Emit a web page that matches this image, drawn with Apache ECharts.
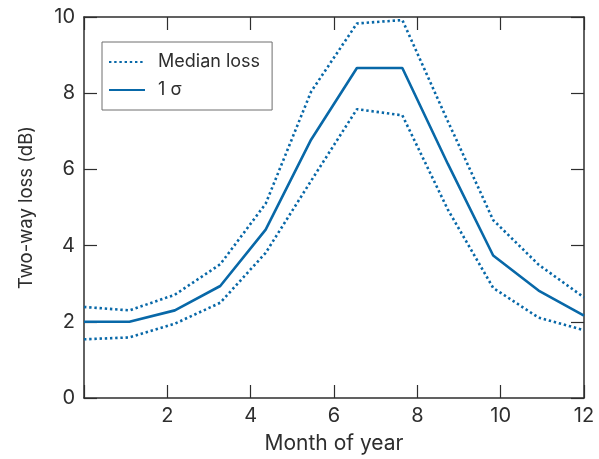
<!DOCTYPE html>
<html>
<head>
<meta charset="utf-8">
<script src="https://cdn.jsdelivr.net/npm/echarts@6/dist/echarts.min.js"></script>
<style>
  html, body { margin: 0; padding: 0; background: #fff; }
  #chart { width: 599px; height: 459px; }
</style>
</head>
<body>
<div id="chart"></div>
<script>
// Month positions of the sampled points (12 samples across the year)
const months = [0, 1.09, 2.18, 3.27, 4.36, 5.45, 6.55, 7.64, 8.73, 9.82, 10.91, 12];
// Upper bound of the loss band (dB)
const upperLoss = [2.39, 2.30, 2.71, 3.51, 5.10, 8.04, 9.83, 9.92, 7.27, 4.67, 3.50, 2.64];
// Central 1-sigma curve (dB)
const sigmaLoss = [2.00, 2.00, 2.30, 2.94, 4.42, 6.78, 8.66, 8.66, 6.15, 3.74, 2.82, 2.16];
// Lower bound of the loss band (dB)
const lowerLoss = [1.54, 1.59, 1.95, 2.50, 3.81, 5.70, 7.58, 7.42, 4.95, 2.89, 2.11, 1.78];

const xTicks = [2, 4, 6, 8, 10, 12];
const yTicks = [0, 2, 4, 6, 8, 10];

const blue = '#0868a8';
const ink = '#2e2e2e';
const font = 'Inter, Liberation Sans, Arial, sans-serif';
const dotted = [2.4, 2.8];

const pairs = ys => months.map((m, i) => [m, ys[i]]);

// Shared styling for the four sides of the frame: ticks point inward
const frameAxis = () => ({
  axisLine: { show: true, onZero: false, lineStyle: { color: ink, width: 1.5 } },
  axisTick: { show: true, inside: true, length: 13, lineStyle: { color: ink, width: 1.2 } },
  splitLine: { show: false }
});

const chart = echarts.init(document.getElementById('chart'), null, { renderer: 'canvas' });
chart.setOption({
  backgroundColor: '#fff',
  animation: false,
  grid: { left: 84, right: 15, top: 17, bottom: 60 },
  legend: {
    left: 102, top: 42,
    orient: 'vertical',
    padding: [11, 12, 11, 6],
    itemGap: 10,
    itemWidth: 36, itemHeight: 14,
    borderColor: '#6e6e6e', borderWidth: 1,
    backgroundColor: '#fff',
    itemStyle: { opacity: 0 },
    textStyle: { fontFamily: font, fontSize: 18, color: ink, padding: [0, 0, 0, 8] },
    data: ['Median loss', '1 σ']
  },
  xAxis: [
    Object.assign({
      type: 'value', min: 0, max: 12, interval: 2, position: 'bottom',
      name: 'Month of year', nameLocation: 'middle', nameGap: 35,
      nameTextStyle: { fontFamily: font, fontSize: 21, color: ink },
      axisLabel: {
        fontFamily: font, fontSize: 20, color: ink, margin: 8,
        formatter: v => (xTicks.includes(v) ? String(v) : '')
      }
    }, frameAxis()),
    Object.assign({
      type: 'value', min: 0, max: 12, interval: 2, position: 'top',
      axisLabel: { show: false }
    }, frameAxis())
  ],
  yAxis: [
    Object.assign({
      type: 'value', min: 0, max: 10, interval: 2, position: 'left',
      name: 'Two-way loss (dB)', nameLocation: 'middle', nameGap: 48,
      nameTextStyle: { fontFamily: font, fontSize: 18.5, color: ink },
      axisLabel: {
        fontFamily: font, fontSize: 20, color: ink, margin: 9,
        formatter: v => (yTicks.includes(v) ? String(v) : '')
      }
    }, frameAxis()),
    Object.assign({
      type: 'value', min: 0, max: 10, interval: 2, position: 'right',
      axisLabel: { show: false }
    }, frameAxis())
  ],
  series: [
    {
      name: 'Median loss', type: 'line', symbol: 'none',
      data: pairs(upperLoss),
      lineStyle: { color: blue, width: 2.6, type: dotted },
      itemStyle: { color: 'rgba(0,0,0,0)' }
    },
    {
      name: '1 σ', type: 'line', symbol: 'none',
      data: pairs(sigmaLoss),
      lineStyle: { color: blue, width: 2.6, type: 'solid' },
      itemStyle: { color: 'rgba(0,0,0,0)' }
    },
    {
      name: 'Median loss', type: 'line', symbol: 'none',
      data: pairs(lowerLoss),
      lineStyle: { color: blue, width: 2.6, type: dotted },
      itemStyle: { color: 'rgba(0,0,0,0)' }
    }
  ]
});
</script>
</body>
</html>
